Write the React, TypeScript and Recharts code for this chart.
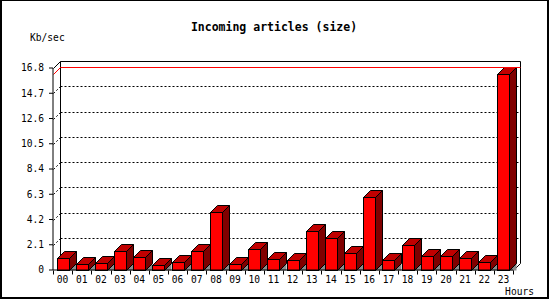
import { BarChart, Bar, XAxis, YAxis, CartesianGrid, ReferenceArea, ReferenceLine } from "recharts";

const hours = [
  "00", "01", "02", "03", "04", "05", "06", "07", "08", "09", "10", "11",
  "12", "13", "14", "15", "16", "17", "18", "19", "20", "21", "22", "23",
];
const kbPerSec = [
  1.0, 0.47, 0.55, 1.55, 1.05, 0.39, 0.64, 1.55, 4.81, 0.47, 1.72, 0.89,
  0.8, 3.24, 2.66, 1.38, 6.03, 0.8, 2.05, 1.13, 1.13, 0.97, 0.64, 16.3,
];
const yTicks = [0, 2.1, 4.2, 6.3, 8.4, 10.5, 12.6, 14.7, 16.8];

const data = hours.map((hour, i) => ({ hour, value: kbPerSec[i] }));
const maxValue = Math.max(...kbPerSec);

const W = 550;
const H = 300;
const MARGIN = { top: 68, right: 37, bottom: 0, left: 0 };
const Y_AXIS_W = 53;
const X_AXIS_H = 30;
const PLOT_TOP = MARGIN.top;
const PLOT_BOTTOM = H - MARGIN.bottom - X_AXIS_H;
const PLOT_W = W - MARGIN.left - MARGIN.right - Y_AXIS_W;
const D = 7; // depth of the 3D effect
const MONO = "'DejaVu Sans Mono', 'Liberation Mono', monospace";

const px = (v: number) => Math.round(v) + 0.5;

function Bar3D(props: any) {
  const { x, y, width, height } = props;
  if (x == null || !height) return null;
  const l = px(x);
  const r = px(x + width);
  const t = px(y);
  const b = px(y + height);
  return (
    <g stroke="#000" strokeWidth={1}>
      <polygon points={`${r},${b} ${r + D},${b - D} ${r + D},${b}`} fill="#8c8c8c" stroke="none" />
      <polygon points={`${r},${t} ${r + D},${t - D} ${r + D},${b - D} ${r},${b}`} fill="#800000" />
      <polygon points={`${l},${t} ${l + D},${t - D} ${r + D},${t - D} ${r},${t}`} fill="#c00000" />
      <rect x={l} y={t} width={r - l} height={b - t} fill="#ff0000" />
    </g>
  );
}

function GridLine(props: any) {
  const { x1, x2, y1 } = props;
  if (y1 <= PLOT_TOP + 1 || y1 >= PLOT_BOTTOM - 1) return <g />;
  const l = px(x1);
  const r = px(x2);
  const yy = px(y1);
  return (
    <g stroke="#000" strokeDasharray="2 2" fill="none">
      <line x1={l + D} y1={yy - D} x2={r + D} y2={yy - D} />
      <line x1={l} y1={yy} x2={l + D} y2={yy - D} />
    </g>
  );
}

function BoxFrame(props: any) {
  const { x, y, width, height } = props;
  const l = px(x);
  const r = px(x + width);
  const t = px(y);
  const b = px(y + height);
  return (
    <g stroke="#000" strokeWidth={1} fill="none">
      <polyline points={`${l},${t} ${l + D},${t - D} ${r + D},${t - D} ${r + D},${b - D} ${r},${b}`} />
      <line x1={l + D} y1={t - D} x2={l + D} y2={b - D} />
    </g>
  );
}

// red line at the peak value, on the left wall and the back wall
function MaxLine(props: any) {
  const x1 = props.x1 ?? props.points?.[0]?.x;
  const x2 = props.x2 ?? props.points?.[1]?.x;
  const y1 = props.y1 ?? props.points?.[0]?.y;
  if (x1 == null || y1 == null) return <g />;
  const yy = px(y1);
  return (
    <polyline
      points={`${px(x1)},${yy} ${px(x1) + D},${yy - D} ${px(x2) + D},${yy - D}`}
      stroke="#ff0000"
      strokeWidth={1}
      fill="none"
    />
  );
}

function HourTick(props: any) {
  const { x, y, payload, index } = props;
  const step = PLOT_W / hours.length;
  const top = PLOT_BOTTOM + 0.5;
  const left = px(x - step / 2);
  const right = px(x + step / 2);
  return (
    <g>
      <line x1={left} y1={top} x2={left} y2={top + 4} stroke="#000" />
      {index === hours.length - 1 && <line x1={right} y1={top} x2={right} y2={top + 4} stroke="#000" />}
      <text x={x} y={y} dy="0.71em" textAnchor="middle" fontSize={9.6} fontFamily={MONO} fill="#000">
        {payload.value}
      </text>
    </g>
  );
}

function HoursLabel(props: any) {
  const vb = props.viewBox || {};
  return (
    <text x={vb.x + vb.width + 21} y={295} textAnchor="end" fontSize={9.6} fontFamily={MONO} fill="#000">
      Hours
    </text>
  );
}

export default function App() {
  return (
    <div style={{ position: "absolute", left: 0, top: 0, width: W, height: H, background: "#fff" }}>
      <BarChart width={W} height={H} data={data} margin={MARGIN} barCategoryGap="19%">
        <CartesianGrid vertical={false} horizontal={GridLine} />
        <ReferenceArea y1={0} y2={16.8} shape={BoxFrame} ifOverflow="visible" />
        <ReferenceLine y={maxValue} stroke="#ff0000" shape={MaxLine} ifOverflow="visible" />
        <YAxis
          width={Y_AXIS_W}
          domain={[0, 16.8]}
          ticks={yTicks}
          interval={0}
          tickSize={4}
          tickMargin={5}
          axisLine={{ stroke: "#000" }}
          tickLine={{ stroke: "#000" }}
          tick={{ fill: "#000", fontSize: 9.6, fontFamily: MONO }}
        />
        <XAxis
          dataKey="hour"
          height={X_AXIS_H}
          interval={0}
          tickSize={4}
          tickLine={false}
          axisLine={{ stroke: "#000" }}
          tick={HourTick}
          label={<HoursLabel />}
        />
        <Bar dataKey="value" shape={Bar3D} isAnimationActive={false} />
      </BarChart>
      <svg width={W} height={H} style={{ position: "absolute", left: 0, top: 0, pointerEvents: "none" }}>
        <text x={274} y={31} textAnchor="middle" fontSize={11.5} fontWeight="bold" fontFamily={MONO} fill="#000">
          Incoming articles (size)
        </text>
        <text x={30} y={40.5} fontSize={9.6} fontFamily={MONO} fill="#000">
          Kb/sec
        </text>
      </svg>
      <div
        style={{
          position: "absolute",
          left: 0,
          top: 0,
          width: 549,
          height: 299,
          boxSizing: "border-box",
          borderStyle: "solid",
          borderColor: "#000",
          borderWidth: "1px 2px 2px 2px",
        }}
      />
    </div>
  );
}
